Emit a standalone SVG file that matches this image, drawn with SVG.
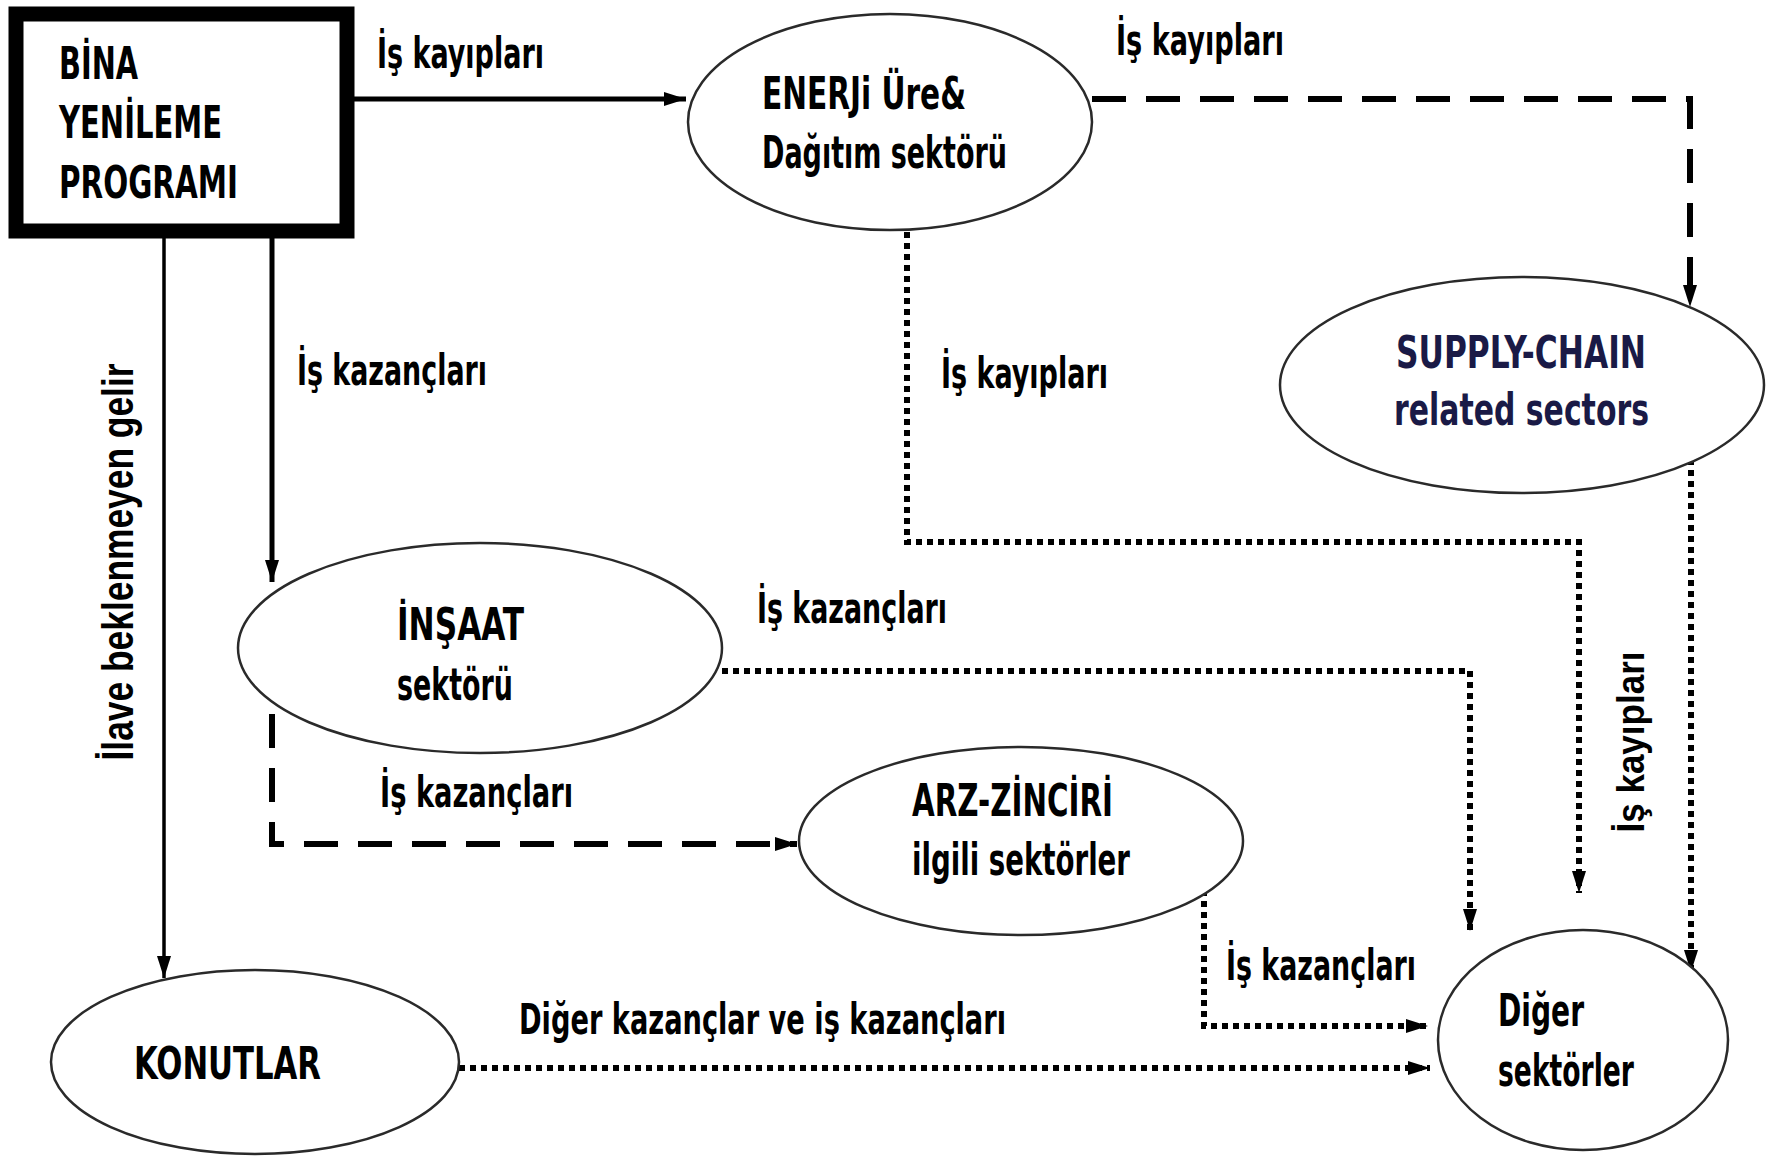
<svg xmlns="http://www.w3.org/2000/svg" width="1777" height="1156" viewBox="0 0 1777 1156">
<defs>
<marker id="ah" markerUnits="userSpaceOnUse" markerWidth="22" markerHeight="16" viewBox="0 0 22 16" refX="22" refY="8" orient="auto">
<path d="M0,1 L22,8 L0,15 Z" fill="#000"/>
</marker>
<style>
.t{font-family:'Liberation Sans Narrow','DejaVu Sans Condensed','Liberation Sans',sans-serif;font-weight:700;fill:#000}
.node{font-size:44px}
.lbl{font-size:42px}
.vl{font-family:'Liberation Sans','DejaVu Sans',sans-serif;font-weight:700;fill:#000}
.el{fill:#fff;stroke:#2a2a2a;stroke-width:2.5}
.solid{fill:none;stroke:#000}
.dash{fill:none;stroke:#000;stroke-width:6;stroke-dasharray:34 20}
.dot{fill:none;stroke:#000;stroke-width:6;stroke-dasharray:6 5}
</style>
</defs>
<rect width="1777" height="1156" fill="#fff"/>
<g id="connectors">
<path class="solid" stroke-width="5" d="M354,99 H686" marker-end="url(#ah)"/>
<path class="dash" d="M1092,99 H1690 V307" marker-end="url(#ah)"/>
<path class="dot" d="M907,232 V542 H1579 V893" marker-end="url(#ah)"/>
<path class="dot" d="M1691,448 V972" marker-end="url(#ah)"/>
<path class="solid" stroke-width="3.5" d="M164,238 V978" marker-end="url(#ah)"/>
<path class="solid" stroke-width="5" d="M272,238 V582" marker-end="url(#ah)"/>
<path class="dot" d="M722,671 H1470 V931" marker-end="url(#ah)"/>
<path class="dash" d="M272,714 V844 H797" stroke-dasharray="28 14" marker-end="url(#ah)"/>
<path class="dot" d="M1204,890 V1026 H1428" stroke-dasharray="9 6" marker-end="url(#ah)"/>
<path class="dot" d="M459,1068 H1430" marker-end="url(#ah)"/>
<text class="t lbl" x="377" y="68" textLength="167" lengthAdjust="spacingAndGlyphs">İş kayıpları</text>
<text class="t lbl" x="1116" y="55" textLength="168" lengthAdjust="spacingAndGlyphs">İş kayıpları</text>
<text class="t lbl" x="941" y="388" textLength="167" lengthAdjust="spacingAndGlyphs">İş kayıpları</text>
<text class="t lbl" x="297" y="385" textLength="190" lengthAdjust="spacingAndGlyphs">İş kazançları</text>
<text class="t lbl" x="757" y="623" textLength="190" lengthAdjust="spacingAndGlyphs">İş kazançları</text>
<text class="t lbl" x="380" y="807" textLength="193" lengthAdjust="spacingAndGlyphs">İş kazançları</text>
<text class="t lbl" x="1226" y="980" textLength="190" lengthAdjust="spacingAndGlyphs">İş kazançları</text>
<text class="t lbl" x="519" y="1034" textLength="487" lengthAdjust="spacingAndGlyphs">Diğer kazançlar ve iş kazançları</text>
<text class="vl" font-size="45" transform="translate(133,562) rotate(-90)" text-anchor="middle" textLength="397" lengthAdjust="spacingAndGlyphs">İlave beklenmeyen gelir</text>
<text class="vl" font-size="39" transform="translate(1644,742) rotate(-90)" text-anchor="middle" textLength="181" lengthAdjust="spacingAndGlyphs">İş kayıpları</text>
</g>
<g id="bina">
<rect x="16" y="14" width="331" height="217" fill="#fff" stroke="#000" stroke-width="15"/>
<text class="t" font-size="44" x="59" y="79" textLength="79" lengthAdjust="spacingAndGlyphs">BİNA</text>
<text class="t" font-size="44" x="59" y="138" textLength="163" lengthAdjust="spacingAndGlyphs">YENİLEME</text>
<text class="t" font-size="44" x="59" y="198" textLength="179" lengthAdjust="spacingAndGlyphs">PROGRAMI</text>
</g>
<g id="enerji">
<ellipse class="el" cx="890" cy="122" rx="202" ry="108"/>
<text class="t node" x="762" y="109" textLength="204" lengthAdjust="spacingAndGlyphs">ENERJi Üre&amp;</text>
<text class="t node" x="762" y="168" textLength="245" lengthAdjust="spacingAndGlyphs">Dağıtım sektörü</text>
</g>
<g id="supply">
<ellipse class="el" cx="1522" cy="385" rx="242" ry="108"/>
<text class="t node" x="1396" y="368" style="fill:#1a1a46" textLength="250" lengthAdjust="spacingAndGlyphs">SUPPLY-CHAIN</text>
<text class="t node" x="1394" y="425" style="fill:#1a1a46" textLength="255" lengthAdjust="spacingAndGlyphs">related sectors</text>
</g>
<g id="insaat">
<ellipse class="el" cx="480" cy="648" rx="242" ry="105"/>
<text class="t node" x="397" y="640" textLength="127" lengthAdjust="spacingAndGlyphs">İNŞAAT</text>
<text class="t node" x="397" y="700" textLength="116" lengthAdjust="spacingAndGlyphs">sektörü</text>
</g>
<g id="arz">
<ellipse class="el" cx="1021" cy="841" rx="222" ry="94"/>
<text class="t node" x="912" y="816" textLength="201" lengthAdjust="spacingAndGlyphs">ARZ-ZİNCİRİ</text>
<text class="t node" x="912" y="875" textLength="218" lengthAdjust="spacingAndGlyphs">ilgili sektörler</text>
</g>
<g id="konutlar">
<ellipse class="el" cx="255" cy="1062" rx="204" ry="92"/>
<text class="t node" x="134" y="1079" textLength="187" lengthAdjust="spacingAndGlyphs">KONUTLAR</text>
</g>
<g id="diger">
<ellipse class="el" cx="1583" cy="1040" rx="145" ry="110"/>
<text class="t node" x="1498" y="1026" textLength="86" lengthAdjust="spacingAndGlyphs">Diğer</text>
<text class="t node" x="1498" y="1086" textLength="136" lengthAdjust="spacingAndGlyphs">sektörler</text>
</g>
</svg>
